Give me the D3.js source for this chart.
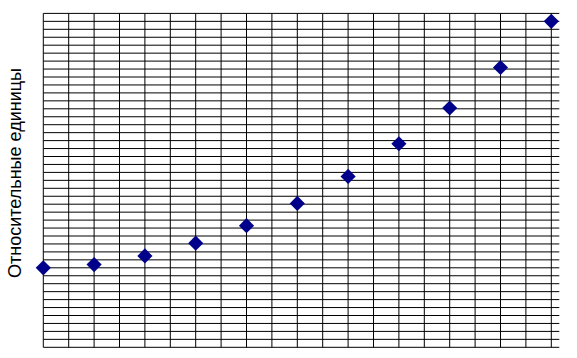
<!DOCTYPE html>
<html><head><meta charset="utf-8">
<script src="https://cdn.jsdelivr.net/npm/d3@7"></script>
<style>body{margin:0;background:#fff}svg{display:block}</style>
</head><body>
<svg id="c" width="577" height="358"></svg>
<script>
const xValues = [0,1,2,3,4,5,6,7,8,9,10];
const yValues = [1.00,1.04,1.15,1.31,1.53,1.81,2.15,2.56,3.01,3.52,4.10];
const xGrid = d3.range(0, 10.01, 0.5);
const yGrid = d3.range(0, 4.201, 0.1);
const yLabel = "Относительные единицы";

const svg = d3.select("#c");
const L = 43.3, R = 559.3, T = 13.4, B = 347.3;
const x = d3.scaleLinear().domain([0, 10]).range([L, 551.3]);
const y = d3.scaleLinear().domain([0, 4.2]).range([B, T]);

const g = svg.append("g");
g.selectAll("line.h").data(yGrid).join("line").attr("class","h")
  .attr("x1", L).attr("x2", R).attr("y1", d=>y(d)).attr("y2", d=>y(d))
  .attr("stroke","#000").attr("stroke-width",1);
g.selectAll("line.v").data(xGrid).join("line").attr("class","v")
  .attr("x1", d=>x(d)).attr("x2", d=>x(d)).attr("y1", T).attr("y2", B)
  .attr("stroke","#000").attr("stroke-width",1);

const sym = d3.symbol().type(d3.symbolSquare).size(115);
g.selectAll("path.pt").data(xValues).join("path").attr("class","pt")
  .attr("d", sym)
  .attr("transform", (d,i)=>`translate(${x(d)},${y(yValues[i])}) rotate(45)`)
  .attr("fill","#00008B");

svg.append("text")
  .attr("transform","translate(21,173) rotate(-90)")
  .attr("text-anchor","middle")
  .attr("font-family","Liberation Sans, Arial, sans-serif")
  .attr("font-size",18)
  .attr("fill","#000")
  .text(yLabel);
</script>
</body></html>
